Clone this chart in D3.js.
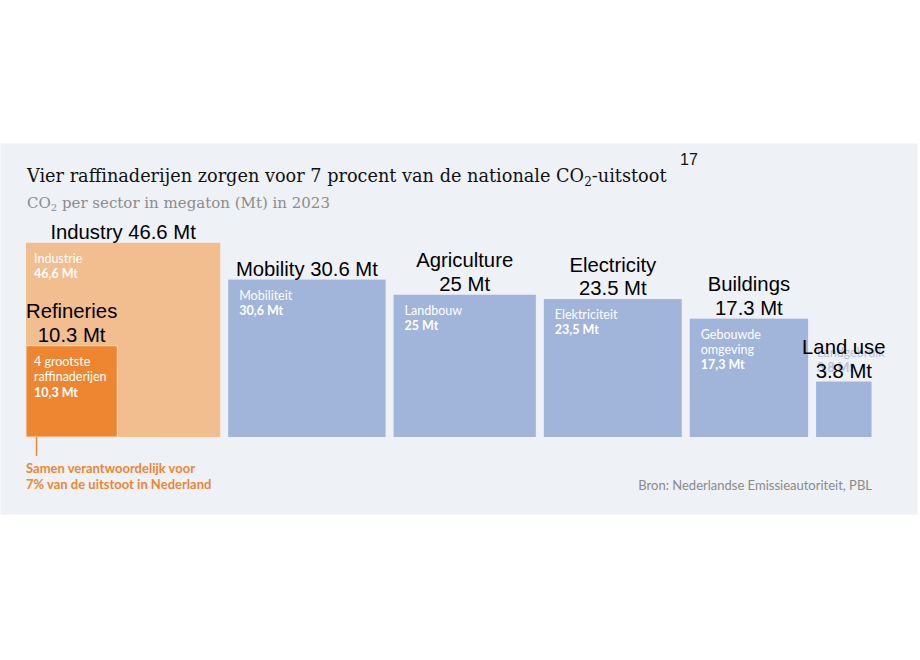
<!DOCTYPE html>
<html>
<head>
<meta charset="utf-8">
<style>
  body { margin: 0; background: #fff; }
  svg { display: block; }
</style>
<title>Vier raffinaderijen</title>
</head>
<body>
<script src="https://cdn.jsdelivr.net/npm/d3@7"></script>
<script>
// data
var sectorNames = [["Industrie"], ["Mobiliteit"], ["Landbouw"], ["Elektriciteit"], ["Gebouwde", "omgeving"], ["Landgebruik"]]
var sectorValues = [46.6, 30.6, 25, 23.5, 17.3, 3.8]
var sectorEnglish = [["Industry 46.6 Mt"], ["Mobility 30.6 Mt"], ["Agriculture", "25 Mt"], ["Electricity", "23.5 Mt"], ["Buildings", "17.3 Mt"], ["Land use", "3.8 Mt"]]
var sectorGroup = ["industry", "other", "other", "other", "other", "other"]
var refineryName = ["4 grootste", "raffinaderijen"]
var refineryValue = 10.3
var refineryEnglish = ["Refineries", "10.3 Mt"]
var noteLines = ["Samen verantwoordelijk voor", "7% van de uitstoot in Nederland"]

var width = 920, height = 660,
    baseY = 437, left = 26, gap = 8

var colors = {industry: "#f2bd8f", refinery: "#ee8631", other: "#a1b4d9"}

var svg = d3.select("body").append("svg")
    .attr("width", width)
    .attr("height", height)

// panel
svg.append("rect")
    .attr("x", 0.5).attr("y", 143.5)
    .attr("width", 917).attr("height", 371)
    .attr("fill", "#eef1f6")
    .attr("stroke", "#f7f8fb")

var serif = "DejaVu Serif, serif"

// title
var title = svg.append("text")
    .attr("x", 27).attr("y", 182)
    .style("font-family", serif)
    .style("font-size", "17.7px")
    .attr("fill", "#111")
title.append("tspan").text("Vier raffinaderijen zorgen voor 7 procent van de nationale CO")
title.append("tspan").attr("dy", 4).style("font-size", "12px").text("2")
title.append("tspan").attr("dy", -4).text("-uitstoot")

svg.append("text")
    .attr("x", 680).attr("y", 165)
    .style("font-family", "Liberation Sans, Arial, sans-serif")
    .style("font-size", "16px")
    .attr("fill", "#111")
    .text("17")

var sub = svg.append("text")
    .attr("x", 27).attr("y", 208)
    .style("font-family", serif)
    .style("font-size", "15px")
    .attr("fill", "#8c8c8c")
sub.append("tspan").text("CO")
sub.append("tspan").attr("dy", 3).style("font-size", "10px").text("2")
sub.append("tspan").attr("dy", -3).text(" per sector in megaton (Mt) in 2023")

// squares: area proportional to emissions
var side = d3.scaleSqrt().domain([0, 100]).range([0, 284.5])

var sectors = sectorValues.map((v, i) => ({
    names: sectorNames[i], value: v, english: sectorEnglish[i], group: sectorGroup[i]
}))
var x = left
sectors.forEach(d => {
    d.x = x
    d.s = side(d.value)
    d.y = baseY - d.s
    x += d.s + gap
})

var fmt = v => String(v).replace(".", ",") + " Mt"
var sans = "Lato, sans-serif"

var g = svg.selectAll(".sector")
    .data(sectors)
    .enter().append("g")
    .attr("class", "sector")

g.append("rect")
    .attr("x", d => d.x)
    .attr("y", d => d.y)
    .attr("width", d => d.s)
    .attr("height", d => d.s)
    .attr("fill", d => colors[d.group])

// dutch labels inside (or above, when the square is too small)
g.each(function (d) {
    var small = d.s < 80
    var pad = d.group === "industry" ? 8 : 11
    var lines = d.names.concat([fmt(d.value)])
    var y0 = small ? d.y - 10 - 14.5 * (lines.length - 1) : d.y + 20
    d3.select(this).selectAll("text.nl")
        .data(lines)
        .enter().append("text")
        .attr("class", "nl")
        .attr("x", small ? d.x + 1 : d.x + pad)
        .attr("y", (t, i) => y0 + i * 15)
        .style("font-family", sans)
        .style("font-size", "12.5px")
        .style("font-weight", (t, i) => i === lines.length - 1 ? "bold" : "normal")
        .attr("fill", small ? "#b6c4e2" : "#fff")
        .text(t => t)
})

// refineries inside industry
var ref = {s: side(refineryValue)}
ref.x = left
ref.y = baseY - ref.s

svg.append("rect")
    .attr("x", ref.x).attr("y", ref.y)
    .attr("width", ref.s).attr("height", ref.s)
    .attr("fill", colors.refinery)
    .attr("stroke", "#f7e3d2")
    .attr("stroke-width", 1)

svg.selectAll("text.ref")
    .data(refineryName.concat([fmt(refineryValue)]))
    .enter().append("text")
    .attr("class", "ref")
    .attr("x", ref.x + 8)
    .attr("y", (t, i) => ref.y + 20 + i * 15.5)
    .style("font-family", sans)
    .style("font-size", "12.5px")
    .style("font-weight", (t, i) => i === 2 ? "bold" : "normal")
    .attr("fill", "#fff")
    .text(t => t)

// orange note
svg.append("line")
    .attr("x1", 36.5).attr("x2", 36.5)
    .attr("y1", baseY).attr("y2", 456)
    .attr("stroke", colors.refinery)
    .attr("stroke-width", 1.5)

svg.selectAll("text.note")
    .data(noteLines)
    .enter().append("text")
    .attr("class", "note")
    .attr("x", 26)
    .attr("y", (t, i) => 473 + i * 15.5)
    .style("font-family", sans)
    .style("font-size", "13px")
    .style("font-weight", "bold")
    .attr("fill", colors.refinery)
    .text(t => t)

svg.append("text")
    .attr("x", 872).attr("y", 490)
    .attr("text-anchor", "end")
    .style("font-family", sans)
    .style("font-size", "13px")
    .attr("fill", "#8a8a8a")
    .text("Bron: Nederlandse Emissieautoriteit, PBL")

// english overlay labels
var overlay = sectors.map(d => ({cx: d.x + d.s / 2, top: d.y, lines: d.english}))
overlay.push({cx: ref.x + ref.s / 2, top: ref.y, lines: refineryEnglish})

overlay.forEach(d => {
    svg.append("g").selectAll("text")
        .data(d.lines)
        .enter().append("text")
        .attr("x", d.cx)
        .attr("y", (t, i) => d.top - 4 - (d.lines.length - 1 - i) * 23.5)
        .attr("text-anchor", "middle")
        .style("font-family", "Liberation Sans, Arial, sans-serif")
        .style("font-size", "20.3px")
        .attr("fill", "#000")
        .text(t => t)
})
</script>
</body>
</html>
